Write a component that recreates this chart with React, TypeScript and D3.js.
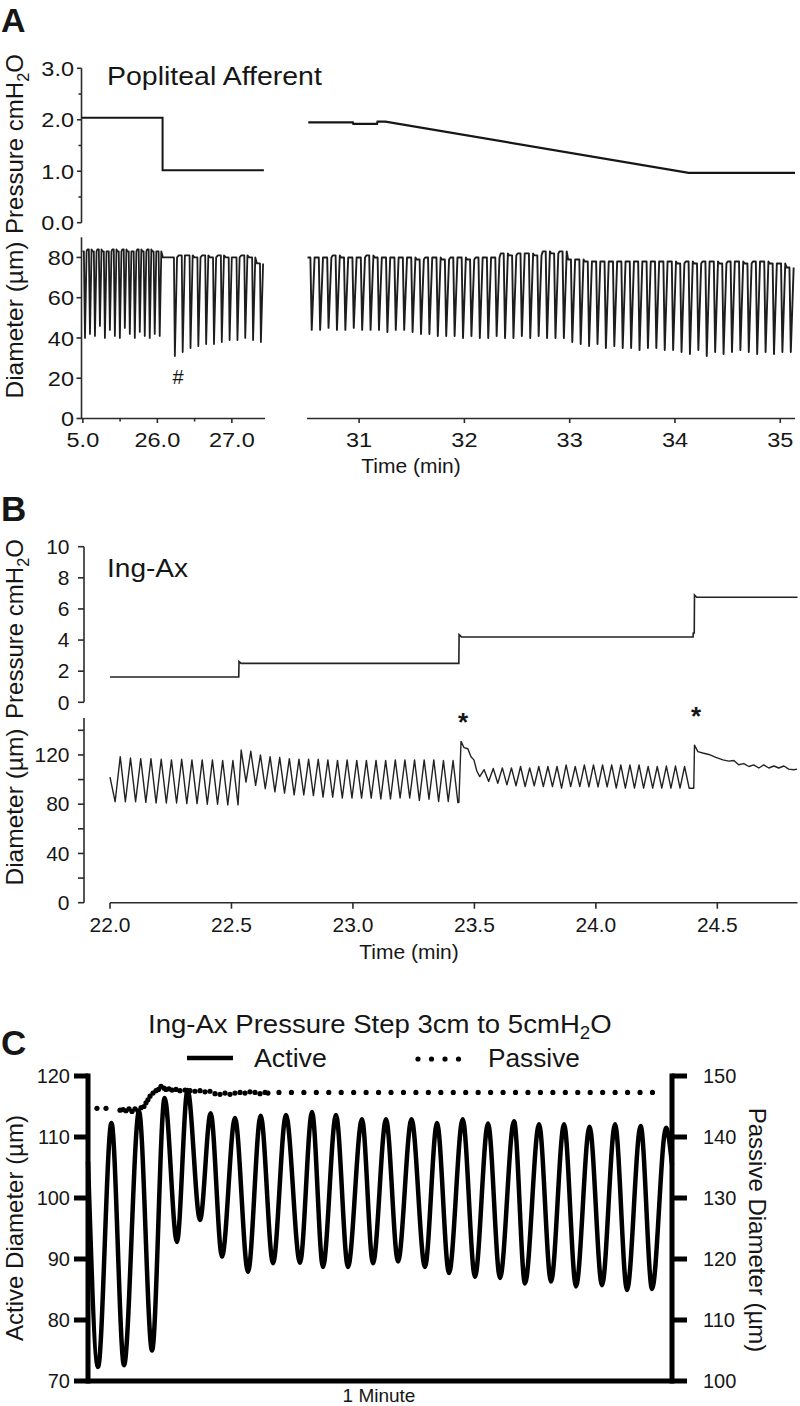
import React from 'react';
import * as d3 from 'd3';

type Pt = [number, number];
const FONT = "'Liberation Sans', Arial, Helvetica, sans-serif";
const INK = '#161616';
const AX = '#2b2b2b';

/* ================= Panel A : Popliteal Afferent ================= */
const aLeftTicks = [25.0, 26.0, 27.0];
const aLeftTickLabels = ['5.0', '26.0', '27.0'];
const aLeftMinor = [25.5, 26.5];
const aRightTicks = [31, 32, 33, 34, 35];
const aRightTickLabels = ['31', '32', '33', '34', '35'];
const aPressTicks = [0, 1, 2, 3];
const aPressTickLabels = ['0.0', '1.0', '2.0', '3.0'];
const aPressMinor = [0.5, 1.5, 2.5];
const aDiamTicks = [0, 20, 40, 60, 80];
const aDiamTickLabels = ['0', '20', '40', '60', '80'];

const aPressLeftTime = [24.985, 26.07, 26.07, 27.43];
const aPressLeftValue = [2.04, 2.04, 1.02, 1.02];
const aPressRightTime = [30.517, 30.94, 30.945, 31.17, 31.175, 31.25, 34.13, 35.14];
const aPressRightValue = [1.95, 1.95, 1.92, 1.92, 1.965, 1.965, 0.97, 0.97];

// diameter, left recording before the pressure step (one entry per contraction)
const aPreWindow = [24.995, 26.065];
const aPrePeaks = [83, 84, 83, 84, 83, 83, 84, 83, 84, 83, 83, 84, 83, 84, 83, 83];
const aPreTroughs = [40, 42, 41, 46, 40, 44, 41, 40, 45, 42, 40, 43, 41, 40, 42, 41];
// after the step to 1 cmH2O
const aPostPlateauTime = [26.075];
const aPostPlateauValue = [80];
const aPostWindow = [26.1825, 27.4425];
const aPostPeaks = [80, 81, 81, 80, 81, 80, 81, 80, 80, 81, 80, 77];
const aPostTroughs = [31, 33, 35, 36, 37, 37, 38, 39, 39, 40, 39, 38];
// right recording (pressure ramp)
const aRightWindow = [30.51, 35.14];
const aRightPeaks = [
  80, 80, 80, 81, 80, 80, 80, 81, 80, 80, 80,
  80, 80, 79, 80, 80, 79, 80, 80, 79, 80, 80, 80,
  82, 81, 82, 82, 81, 83, 82, 83,
  79, 79, 78, 78, 78, 78, 78, 78, 78, 78, 78, 78,
  78, 77, 78, 77, 78, 78, 77, 78, 78, 77, 78, 78, 77, 77, 75,
];
const aRightTroughs = [
  44, 44, 45, 44, 44, 45, 44, 44, 44, 43, 44,
  44, 43, 42, 42, 41, 41, 41, 40, 41, 40, 40, 41,
  40, 40, 41, 40, 41, 40, 40, 40,
  38, 37, 36, 37, 35, 36, 35, 35, 34, 35, 35, 34,
  34, 33, 32, 34, 31, 33, 32, 33, 34, 33, 32, 33, 32, 33, 33,
];

/* ================= Panel B : Ing-Ax ================= */
const bTimeTicks = [22.0, 22.5, 23.0, 23.5, 24.0, 24.5];
const bTimeTickLabels = ['22.0', '22.5', '23.0', '23.5', '24.0', '24.5'];
const bPressTicks = [0, 2, 4, 6, 8, 10];
const bDiamTicks = [0, 40, 80, 120];
const bDiamMinor = [20, 60, 100, 140];

const bPressTime = [22.0, 22.53, 22.531, 22.54, 23.436, 23.437, 23.447, 24.4, 24.401, 24.405, 24.406, 24.415, 24.83];
const bPressValue = [1.63, 1.63, 2.62, 2.5, 2.5, 4.35, 4.2, 4.2, 4.45, 4.45, 6.9, 6.75, 6.75];

const bSeg1Window = [22.0, 22.527];
const bSeg1Start = 102;
const bSeg1Troughs = [82, 82, 82, 81.5, 81, 81, 81, 80.5, 80.5, 80, 80, 79.5, 79.5];
const bSeg1Peaks = [118.6, 117.5, 117, 117, 116.5, 116, 116.5, 116, 116, 116, 115.5, 115.5];

const bSeg2Window = [22.54, 23.432];
const bSeg2Peaks = [124, 123, 120, 118.6, 118, 117, 116.6, 116.5, 116.5, 116, 115.6, 116, 115.6, 115.6, 115.6, 115.6, 116, 116, 116, 116, 116, 115.5, 115.5];
const bSeg2Troughs = [98, 95.3, 92.6, 90, 89, 87.6, 87.5, 87, 85.8, 85.8, 85, 85, 85, 85, 84.2, 84.2, 85, 85, 83, 84, 82.2, 82.2, 81.3];

const bStep2Time = [23.436, 23.445, 23.457, 23.473, 23.486, 23.498, 23.51, 23.522];
const bStep2Value = [81.3, 131, 126, 125, 118.6, 116, 107, 102.4];

const bSeg3Window = [23.54, 24.384];
const bSeg3Peaks = [108, 109, 109.5, 109.5, 110.6, 109.5, 110.6, 110.6, 110.6, 111.9, 110.6, 111.9, 111.9, 111.9, 111.9, 111.9, 111.9, 111.9, 110.6, 110.6, 111, 111, 110.6];
const bSeg3Troughs = [98.4, 97, 95.7, 95, 94.3, 95, 94.3, 94.3, 93, 94.3, 94.3, 94, 94, 94, 93, 93, 93, 93, 93, 93, 93, 93, 93];

const bStep3Time = [24.403, 24.406, 24.42, 24.44, 24.465, 24.494, 24.523, 24.547, 24.568, 24.588, 24.609, 24.63, 24.65, 24.671, 24.691, 24.712, 24.733, 24.753, 24.774, 24.794, 24.815, 24.828];
const bStep3Value = [93, 128, 122.7, 121.6, 120.4, 118, 116, 115, 115.5, 112, 113, 110.6, 111.9, 109.4, 111.9, 109.4, 111, 109.4, 111, 108.5, 108, 108.5];

/* ================= Panel C : pressure step 3 -> 5 cmH2O ================= */
const cActiveTicks = [70, 80, 90, 100, 110, 120];
const cPassiveTicks = [100, 110, 120, 130, 140, 150];

// time in seconds across the 1-minute window
const cActiveTime = [
  0, 1.03, 2.41, 3.7, 5.24, 6.58, 7.87, 9.14, 10.23, 11.51, 12.6, 13.77, 15.1, 16.44, 17.74, 19.01,
  20.34, 21.78, 23.02, 24.14, 25.48, 26.71, 28.15, 29.28, 30.62, 31.85, 33.24, 34.62, 35.86, 37.09,
  38.5, 39.76, 41.1, 42.33, 43.77, 44.9, 46.34, 47.57, 48.91, 50.14, 51.53, 52.81, 54.15, 55.38,
  56.78, 57.95, 59.39, 60,
];
const cActiveValue = [
  106, 72.3, 112.3, 72.6, 114.2, 75.0, 116.4, 92.8, 117.7, 96.4, 113.9, 90.4, 113.1, 87.9, 113.5, 89.3,
  113.6, 89.4, 114.1, 88.7, 113.6, 88.7, 112.9, 89.3, 112.9, 89.6, 112.9, 88.7, 112.3, 87.7,
  112.9, 87.1, 112.2, 86.9, 112.6, 86.0, 112.1, 86.3, 112.1, 85.5, 111.7, 85.7, 112.1, 84.9,
  111.8, 85.1, 111.5, 105.5,
];
const cPassiveTime = [
  0.92, 1.85, 3.29, 3.6, 3.9, 4.21, 4.52, 4.83, 5.14, 5.45, 5.75, 5.96, 6.16, 6.37, 6.68, 6.99, 7.24,
  7.5, 7.81, 8.01, 8.32, 8.63, 9.04, 9.45, 9.97, 10.48, 10.99, 11.51, 12.02, 12.53, 13.05, 13.56,
  14.08, 14.59, 15.1, 15.62, 16.13, 16.64, 17.16, 17.67, 18.19, 18.49,
];
const cPassiveValue = [
  144.7, 144.7, 144.4, 144.5, 144.3, 144.6, 144.2, 144.6, 144.3, 144.8, 145.0, 145.6, 146.1, 146.7,
  147.2, 147.6, 147.8, 148.3, 148.0, 147.8, 147.9, 147.7, 147.8, 147.6, 147.7, 147.6, 147.5, 147.6,
  147.4, 147.5, 147.1, 147.0, 147.2, 147.0, 147.2, 147.3, 147.2, 147.4, 147.3, 147.1, 147.3, 147.2,
];
const cPassiveFlatTime = [19.62, 58.97];
const cPassiveFlatValue = [147.3, 147.3];

/* ================= helpers ================= */
const zipPts = (t: number[], v: number[]): Pt[] => t.map((x, i) => [x, v[i]] as Pt);
const interleave = (a: number[], b: number[]) => a.flatMap((v, i) => (i < b.length ? [v, b[i]] : [v]));
const evenly = (win: number[], values: number[]): Pt[] => {
  const s = d3.scaleLinear().domain([0, values.length - 1]).range(win);
  return values.map((v, i) => [s(i), v] as Pt);
};
// one contraction per entry: plateau at the peak, fast fall to the trough, refill
const contractions = (win: number[], peaks: number[], troughs: number[], fall: number, rise: number): Pt[] => {
  const s = d3.scaleLinear().domain([0, troughs.length]).range(win);
  return troughs.flatMap((tr, i) => {
    const a = s(i), b = s(i + 1), c = (a + b) / 2, p = b - a;
    return [[a, peaks[i]], [c - fall * p, peaks[i]], [c, tr], [c + rise * p, peaks[i]]] as Pt[];
  });
};

function Txt({ x, y, size, sx = 1, rot = 0, anchor = 'start', weight = 400, children, fill = INK }: any) {
  const t = `translate(${x},${y})` + (sx !== 1 ? ` scale(${sx},1)` : '') + (rot ? ` rotate(${rot})` : '');
  return (
    <text transform={t} fontFamily={FONT} fontSize={size} fontWeight={weight} textAnchor={anchor} fill={fill}>
      {children}
    </text>
  );
}
const H2O = (size: number) => [
  <tspan key="h">H</tspan>,
  <tspan key="2" fontSize={size * 0.68} dy={size * 0.24}>2</tspan>,
  <tspan key="o" dy={-size * 0.24}>O</tspan>,
];

function LeftAxis({ x, scale, y0, y1, ticks, labels, minor = [], len, mlen = 3.5, size, sx = 1, gap, sw = 1.6, color = AX }: any) {
  return (
    <g>
      <line x1={x} x2={x} y1={y0} y2={y1} stroke={color} strokeWidth={sw} />
      {ticks.map((t: number, i: number) => (
        <g key={'t' + i}>
          <line x1={x - len} x2={x} y1={scale(t)} y2={scale(t)} stroke={color} strokeWidth={sw} />
          <Txt x={x - len - gap} y={scale(t) + size * 0.36} size={size} sx={sx} anchor="end">{labels[i]}</Txt>
        </g>
      ))}
      {minor.map((t: number, i: number) => (
        <line key={'m' + i} x1={x - mlen} x2={x} y1={scale(t)} y2={scale(t)} stroke={color} strokeWidth={sw} />
      ))}
    </g>
  );
}
function BottomAxis({ y, scale, x0, x1, ticks, labels, minor = [], len, mlen = 3.5, size, sx = 1, labelY, sw = 1.6 }: any) {
  return (
    <g>
      <line x1={x0} x2={x1} y1={y} y2={y} stroke={AX} strokeWidth={sw} />
      {ticks.map((t: number, i: number) => (
        <g key={'t' + i}>
          <line x1={scale(t)} x2={scale(t)} y1={y} y2={y + len} stroke={AX} strokeWidth={sw} />
          <Txt x={scale(t)} y={labelY} size={size} sx={sx} anchor="middle">{labels[i]}</Txt>
        </g>
      ))}
      {minor.map((t: number, i: number) => (
        <line key={'m' + i} x1={scale(t)} x2={scale(t)} y1={y} y2={y + mlen} stroke={AX} strokeWidth={sw} />
      ))}
    </g>
  );
}

export default function App() {
  // scales
  const aXL = d3.scaleLinear().domain([24.975, 27.445]).range([81, 265]);
  const aXR = d3.scaleLinear().domain([30.505, 35.14]).range([307, 795]);
  const aYP = d3.scaleLinear().domain([0, 3]).range([222.7, 68.3]);
  const aYD = d3.scaleLinear().domain([0, 90]).range([418.5, 237.3]);
  const bX = d3.scaleLinear().domain([22.0, 24.83]).range([110, 797.5]);
  const bYP = d3.scaleLinear().domain([0, 10]).range([702.3, 546.7]);
  const bYD = d3.scaleLinear().domain([0, 150]).range([902.7, 718]);
  const cX = d3.scaleLinear().domain([0, 60]).range([88, 672]);
  const cYA = d3.scaleLinear().domain([70, 120]).range([1381, 1076]);
  const cYP = d3.scaleLinear().domain([100, 150]).range([1381, 1076]);

  const line = (x: any, y: any, curve: any = d3.curveLinear) =>
    d3.line<Pt>().x((d) => x(d[0])).y((d) => y(d[1])).curve(curve);

  // series
  const aPressL = zipPts(aPressLeftTime, aPressLeftValue);
  const aPressR = zipPts(aPressRightTime, aPressRightValue);
  const aDiamL: Pt[] = [
    ...contractions(aPreWindow, aPrePeaks, aPreTroughs, 0.22, 0.32),
    ...zipPts(aPostPlateauTime, aPostPlateauValue),
    ...contractions(aPostWindow, aPostPeaks, aPostTroughs, 0.12, 0.28),
  ];
  const aDiamR = contractions(aRightWindow, aRightPeaks, aRightTroughs, 0.16, 0.34);

  const bPress = zipPts(bPressTime, bPressValue);
  const bDiam: Pt[] = [
    ...evenly(bSeg1Window, [bSeg1Start, ...interleave(bSeg1Troughs, bSeg1Peaks)]),
    ...evenly(bSeg2Window, interleave(bSeg2Peaks, bSeg2Troughs)),
    ...zipPts(bStep2Time, bStep2Value),
    ...evenly(bSeg3Window, interleave(bSeg3Peaks, bSeg3Troughs)),
    ...zipPts(bStep3Time, bStep3Value),
  ];

  const cActive = zipPts(cActiveTime, cActiveValue);
  const cPassive = zipPts(cPassiveTime, cPassiveValue);
  const cPassiveFlat = zipPts(cPassiveFlatTime, cPassiveFlatValue);

  const numLabels = (arr: number[]) => arr.map((d) => String(d));

  return (
    <svg width={800} height={1406} style={{ position: 'absolute', left: 0, top: 0, background: '#fff' }}>
      <rect x={0} y={0} width={800} height={1406} fill="#fff" />

      {/* ---------------- Panel A ---------------- */}
      <Txt x={1} y={32} size={34} weight={700}>A</Txt>
      <Txt x={107} y={85} size={25} sx={1.14}>Popliteal Afferent</Txt>
      <Txt x={23} y={144} size={24} rot={-90} anchor="middle">Pressure cm{H2O(24)}</Txt>
      <Txt x={23} y={320} size={24.5} rot={-90} anchor="middle">Diameter (µm)</Txt>

      <LeftAxis x={81.5} scale={aYP} y0={aYP(3)} y1={aYP(0)} ticks={aPressTicks} labels={aPressTickLabels}
        minor={aPressMinor} len={4.5} mlen={3} size={21} sx={1.12} gap={3} />
      <LeftAxis x={81.5} scale={aYD} y0={aYD(90)} y1={aYD(0)} ticks={aDiamTicks} labels={aDiamTickLabels}
        len={5} size={21} sx={1.12} gap={2.5} />
      <BottomAxis y={aYD(0)} scale={aXL} x0={aXL(24.975)} x1={aXL(27.445)} ticks={aLeftTicks} labels={aLeftTickLabels}
        minor={aLeftMinor} len={4.5} mlen={3} size={21} sx={1.12} labelY={447} />
      <BottomAxis y={aYD(0)} scale={aXR} x0={aXR(30.505)} x1={aXR(35.14)} ticks={aRightTicks} labels={aRightTickLabels}
        len={4.5} size={21} sx={1.12} labelY={447} />
      <Txt x={411} y={473} size={21} anchor="middle">Time (min)</Txt>

      <path d={line(aXL, aYP)(aPressL) || ''} fill="none" stroke={INK} strokeWidth={2} />
      <path d={line(aXR, aYP)(aPressR) || ''} fill="none" stroke={INK} strokeWidth={2.2} />
      <path d={line(aXL, aYD)(aDiamL) || ''} fill="none" stroke="#1d1d1d" strokeWidth={1.8} strokeLinejoin="round" />
      <path d={line(aXR, aYD)(aDiamR) || ''} fill="none" stroke="#1d1d1d" strokeWidth={1.9} strokeLinejoin="round" />
      <Txt x={178} y={383.5} size={20} anchor="middle">#</Txt>

      {/* ---------------- Panel B ---------------- */}
      <Txt x={1} y={521} size={35} weight={700}>B</Txt>
      <Txt x={107} y={577} size={26} sx={1.08}>Ing-Ax</Txt>
      <Txt x={23} y={629} size={24} rot={-90} anchor="middle">Pressure cm{H2O(24)}</Txt>
      <Txt x={23} y={807} size={24.5} rot={-90} anchor="middle">Diameter (µm)</Txt>

      <LeftAxis x={84} scale={bYP} y0={bYP(10)} y1={bYP(0)} ticks={bPressTicks} labels={numLabels(bPressTicks)}
        len={6} size={20} sx={1.05} gap={8.5} />
      <LeftAxis x={84} scale={bYD} y0={bYD(150)} y1={bYD(0)} ticks={bDiamTicks} labels={numLabels(bDiamTicks)}
        minor={bDiamMinor} len={6} mlen={6} size={20} sx={1.05} gap={8.5} />
      <BottomAxis y={bYD(0)} scale={bX} x0={bX(22.0)} x1={bX(24.83)} ticks={bTimeTicks} labels={bTimeTickLabels}
        len={6} size={20} sx={1.05} labelY={932} />
      <Txt x={409} y={959} size={21} anchor="middle">Time (min)</Txt>

      <path d={line(bX, bYP)(bPress) || ''} fill="none" stroke="#222" strokeWidth={1.6} />
      <path d={line(bX, bYD)(bDiam) || ''} fill="none" stroke="#222" strokeWidth={1.4} strokeLinejoin="round" />
      <Txt x={463} y={731} size={26} weight={700} anchor="middle">*</Txt>
      <Txt x={696} y={725} size={26} weight={700} anchor="middle">*</Txt>

      {/* ---------------- Panel C ---------------- */}
      <Txt x={1} y={1055} size={35} weight={700}>C</Txt>
      <Txt x={148} y={1033} size={26} sx={1.06}>Ing-Ax Pressure Step 3cm to 5cm{H2O(26)}</Txt>
      <line x1={187} x2={233} y1={1058} y2={1058} stroke="#000" strokeWidth={4.5} />
      <Txt x={254} y={1067} size={25} sx={1.07}>Active</Txt>
      {[418, 431.5, 445, 458.5].map((x, i) => (
        <circle key={i} cx={x} cy={1059} r={2.6} fill="#000" />
      ))}
      <Txt x={488} y={1067} size={25} sx={1.05}>Passive</Txt>

      <Txt x={23} y={1228} size={24} rot={-90} anchor="middle">Active Diameter (µm)</Txt>
      <Txt x={749} y={1230} size={24} rot={90} anchor="middle">Passive Diameter (µm)</Txt>

      {/* axes */}
      <line x1={cX(0)} x2={cX(0)} y1={cYA(120) - 2.5} y2={cYA(70) + 2.5} stroke="#000" strokeWidth={5} />
      <line x1={cX(60)} x2={cX(60)} y1={cYP(150) - 2.5} y2={cYP(100) + 2.5} stroke="#000" strokeWidth={5} />
      <line x1={cX(0)} x2={cX(60)} y1={cYA(70)} y2={cYA(70)} stroke="#000" strokeWidth={5} />
      {cActiveTicks.map((t, i) => (
        <g key={'ca' + i}>
          <line x1={cX(0) - 14} x2={cX(0)} y1={cYA(t)} y2={cYA(t)} stroke="#000" strokeWidth={5} />
          <Txt x={70} y={cYA(t) + 7} size={20} anchor="end">{String(t)}</Txt>
        </g>
      ))}
      {cPassiveTicks.map((t, i) => (
        <g key={'cp' + i}>
          <line x1={cX(60)} x2={cX(60) + 15} y1={cYP(t)} y2={cYP(t)} stroke="#000" strokeWidth={5} />
          <Txt x={703} y={cYP(t) + 7} size={20}>{String(t)}</Txt>
        </g>
      ))}
      <Txt x={379} y={1402} size={19} anchor="middle">1 Minute</Txt>

      {/* data */}
      <path d={line(cX, cYA, d3.curveMonotoneX)(cActive) || ''} fill="none" stroke="#000" strokeWidth={4.5}
        strokeLinejoin="round" />
      {cPassive.map((d, i) => (
        <circle key={'pd' + i} cx={cX(d[0])} cy={cYP(d[1])} r={2.6} fill="#000" />
      ))}
      <path d={line(cX, cYP)(cPassiveFlat) || ''} fill="none" stroke="#000" strokeWidth={5.2}
        strokeLinecap="round" strokeDasharray="0 12.45" />
    </svg>
  );
}
